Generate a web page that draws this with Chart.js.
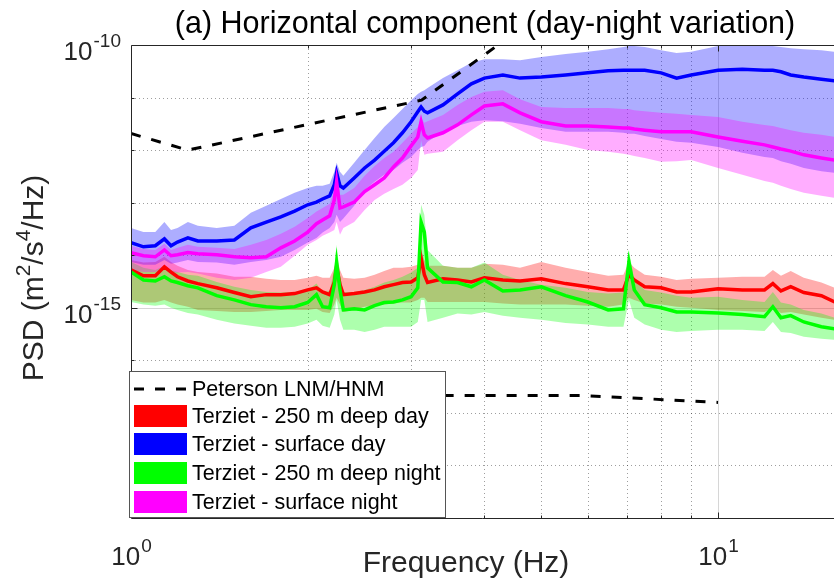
<!DOCTYPE html>
<html>
<head>
<meta charset="utf-8">
<script src="https://cdn.jsdelivr.net/npm/chart.js@4.4.0/dist/chart.umd.min.js"></script>
<style>
  html, body { margin: 0; padding: 0; background: #fff; }
</style>
</head>
<body>
<canvas id="psdChart" width="834" height="582"></canvas>
<script>
// frequency grid (Hz)
const freqs = [1.0, 1.05, 1.1, 1.14, 1.17, 1.2, 1.25, 1.3, 1.4, 1.5, 1.6, 1.7, 1.8, 1.9, 2.0, 2.07, 2.12, 2.18, 2.22, 2.24, 2.27, 2.3, 2.4, 2.5, 2.6, 2.7, 2.8, 2.9, 3.0, 3.08, 3.12, 3.16, 3.2, 3.4, 3.6, 3.8, 4.0, 4.3, 4.6, 5.0, 5.5, 6.0, 6.5, 6.9, 7.05, 7.2, 7.5, 8.0, 8.5, 9.0, 10, 11, 12, 12.4, 12.8, 13.3, 14, 15, 15.8];

// PSD values in dB (rel. 1 m^2/s^4/Hz)
const redMeanDb = [-142.8, -143.9, -143.9, -142.2, -143.2, -144.1, -144.9, -145.4, -146.2, -147.1, -147.9, -147.5, -147.5, -147.3, -146.6, -146.2, -147.0, -147.5, -145.1, -142.2, -145.6, -147.5, -147.3, -147.0, -146.6, -146.0, -145.6, -145.2, -145.1, -144.3, -140.5, -143.7, -145.2, -144.5, -144.7, -145.1, -144.3, -144.7, -144.9, -144.5, -145.4, -146.0, -146.6, -146.6, -143.7, -144.7, -146.0, -146.2, -147.0, -147.0, -146.4, -146.6, -146.6, -145.4, -146.8, -146.0, -147.1, -147.7, -148.9];
const redUpperDb = [-140.9, -141.4, -141.3, -140.3, -141.3, -142.0, -142.8, -143.2, -143.5, -144.1, -144.1, -144.5, -144.7, -144.7, -144.3, -143.9, -144.3, -144.3, -142.4, -140.3, -142.8, -144.3, -144.5, -144.3, -143.7, -143.0, -142.4, -142.4, -142.2, -141.8, -139.0, -140.9, -142.0, -142.0, -142.4, -142.4, -141.6, -141.8, -142.4, -141.3, -142.4, -143.2, -143.9, -143.7, -141.3, -142.4, -143.7, -144.1, -144.7, -144.5, -144.3, -144.1, -144.1, -142.8, -143.9, -143.0, -144.3, -145.2, -146.2];
const redLowerDb = [-148.5, -149.0, -149.0, -148.5, -149.0, -149.4, -149.8, -150.4, -150.6, -150.8, -150.8, -150.6, -150.4, -150.4, -150.4, -150.2, -150.8, -151.0, -149.4, -148.1, -149.4, -150.8, -150.4, -149.8, -149.6, -149.4, -149.2, -149.0, -149.0, -148.5, -148.1, -148.1, -148.9, -148.9, -148.9, -148.9, -148.9, -149.2, -149.4, -149.4, -149.4, -149.6, -149.8, -149.4, -148.1, -148.5, -149.2, -149.4, -149.8, -150.0, -150.4, -150.6, -150.8, -150.0, -151.0, -150.8, -151.3, -151.9, -152.3];

const blueMeanDb = [-137.6, -138.4, -138.2, -136.9, -138.2, -137.5, -136.7, -137.3, -137.3, -137.1, -134.8, -133.7, -132.7, -131.6, -130.4, -129.9, -129.3, -128.7, -126.6, -124.3, -126.8, -127.2, -125.3, -123.4, -121.9, -120.2, -118.6, -116.7, -114.6, -112.7, -111.8, -112.6, -112.9, -111.4, -109.3, -107.4, -106.3, -105.7, -106.3, -106.1, -105.7, -105.3, -104.9, -104.8, -104.8, -104.8, -104.8, -105.3, -106.3, -105.7, -104.8, -104.6, -104.8, -104.8, -105.1, -105.7, -106.1, -106.5, -106.8];
const blueUpperDb = [-134.8, -135.6, -135.6, -133.7, -135.2, -134.8, -133.7, -134.4, -134.8, -134.4, -131.9, -130.6, -129.3, -128.1, -127.2, -126.8, -126.8, -126.4, -124.1, -122.4, -124.1, -124.9, -122.4, -120.0, -117.7, -115.6, -113.9, -112.2, -110.5, -109.3, -108.9, -108.6, -108.2, -106.3, -104.8, -103.4, -102.7, -102.7, -102.9, -102.3, -101.7, -101.3, -100.8, -100.4, -100.2, -100.2, -100.4, -101.0, -101.5, -101.3, -100.2, -100.0, -100.2, -100.2, -100.4, -100.6, -100.8, -101.0, -101.3];
const blueLowerDb = [-141.3, -141.8, -141.8, -140.9, -141.6, -141.4, -140.9, -141.3, -141.4, -141.8, -141.3, -140.9, -140.3, -139.0, -137.6, -136.7, -135.7, -134.8, -133.7, -132.3, -133.7, -133.0, -130.6, -127.6, -126.0, -124.7, -123.8, -122.4, -121.3, -120.0, -119.4, -119.2, -118.4, -116.5, -115.4, -114.6, -114.3, -114.5, -115.0, -115.8, -116.5, -116.5, -116.5, -116.7, -116.9, -116.9, -117.3, -117.9, -118.4, -118.6, -119.4, -120.5, -121.3, -121.5, -122.1, -122.6, -123.4, -124.0, -124.3];

const greenMeanDb = [-143.2, -144.7, -144.9, -144.1, -144.9, -145.2, -145.8, -146.2, -147.7, -148.5, -149.4, -149.8, -150.0, -149.8, -149.0, -147.5, -149.8, -150.0, -145.6, -141.4, -146.6, -150.4, -150.2, -150.4, -149.6, -149.0, -148.9, -148.5, -147.9, -146.2, -133.7, -135.6, -142.4, -145.1, -145.2, -146.0, -144.7, -146.8, -146.6, -146.0, -147.7, -148.9, -150.4, -150.2, -141.3, -146.6, -149.4, -150.0, -150.8, -150.8, -151.0, -151.3, -151.7, -149.8, -151.9, -151.5, -152.7, -153.6, -154.0];
const greenUpperDb = [-141.3, -142.4, -142.8, -142.0, -142.8, -143.2, -143.7, -143.9, -145.1, -146.0, -146.6, -147.0, -147.1, -147.0, -146.6, -145.4, -147.0, -146.8, -142.4, -138.0, -143.7, -147.0, -147.0, -146.6, -146.0, -145.2, -144.7, -144.1, -143.3, -142.4, -130.4, -132.3, -139.0, -142.0, -142.4, -142.4, -141.4, -143.7, -144.7, -145.6, -146.2, -147.0, -147.3, -147.1, -139.0, -144.7, -146.6, -147.1, -147.7, -148.1, -147.9, -148.5, -148.9, -147.0, -149.0, -149.4, -150.4, -151.1, -151.9];
const greenLowerDb = [-148.9, -149.4, -149.6, -149.4, -150.0, -150.4, -151.0, -151.3, -152.3, -153.0, -153.4, -153.8, -153.8, -153.6, -153.0, -152.3, -153.4, -153.8, -151.3, -148.5, -152.3, -154.2, -154.2, -154.6, -154.2, -153.6, -153.6, -153.6, -153.6, -152.7, -148.5, -148.5, -152.7, -151.9, -151.1, -151.3, -150.8, -151.5, -151.9, -152.3, -152.9, -153.2, -153.6, -153.6, -148.5, -151.9, -153.2, -154.2, -154.6, -154.4, -154.2, -154.2, -154.4, -152.7, -154.6, -154.8, -155.5, -155.9, -156.1];

const magentaMeanDb = [-139.5, -140.1, -140.3, -139.0, -140.1, -139.9, -139.5, -139.7, -139.9, -140.3, -140.5, -140.3, -138.6, -137.3, -135.6, -134.0, -133.3, -132.5, -129.5, -126.0, -131.0, -130.8, -129.9, -127.9, -126.6, -125.3, -123.2, -121.5, -119.2, -117.5, -114.6, -117.1, -117.7, -116.7, -115.2, -113.3, -111.6, -111.2, -112.9, -114.6, -115.4, -115.4, -115.6, -115.8, -115.8, -116.0, -116.2, -116.5, -116.5, -116.5, -117.5, -118.3, -119.0, -119.4, -119.8, -120.2, -120.9, -121.5, -121.9];
const magentaUpperDb = [-138.2, -138.8, -139.0, -137.8, -139.0, -138.6, -138.0, -138.4, -138.6, -138.8, -138.0, -137.1, -135.9, -134.6, -132.9, -131.7, -131.0, -130.2, -127.6, -124.1, -128.5, -128.5, -127.2, -124.9, -123.0, -121.5, -120.3, -118.6, -116.9, -115.6, -113.9, -114.8, -114.5, -113.3, -111.4, -109.9, -108.9, -108.6, -110.3, -111.8, -112.0, -112.0, -112.0, -112.2, -112.2, -112.4, -112.6, -112.9, -113.1, -113.3, -113.7, -114.6, -115.2, -115.4, -115.8, -116.2, -116.7, -117.1, -117.5];
const magentaLowerDb = [-142.8, -143.2, -143.2, -142.4, -143.3, -143.3, -143.2, -143.5, -144.3, -144.7, -144.3, -143.2, -142.2, -140.1, -138.0, -137.1, -136.3, -135.7, -135.2, -133.7, -136.1, -134.8, -133.7, -131.4, -129.5, -128.3, -127.4, -126.6, -125.3, -123.8, -118.1, -120.9, -120.7, -120.3, -118.1, -116.2, -114.6, -114.6, -116.2, -118.1, -119.0, -120.0, -120.3, -120.7, -120.9, -121.1, -121.5, -122.2, -122.1, -121.9, -123.4, -124.7, -125.9, -126.2, -126.8, -127.4, -128.1, -128.7, -129.1];

// Peterson new high / low noise models (dB)
const hnmFreqs = [1, 1.25, 3.125, 4.545];
const hnmDb = [-116.85, -120.0, -110.5, -97.4];
const lnmFreqs = [1, 1.25, 2.5, 5.88, 10];
const lnmDb = [-166.4, -169.2, -166.7, -166.7, -168.0];

const xTicks = [1, 10];
const yTicks = [1e-15, 1e-10];
const legendLabels = ['Peterson LNM/HNM', 'Terziet - 250 m deep day', 'Terziet - surface day', 'Terziet - 250 m deep night', 'Terziet - surface night'];
const legendColors = ['#000000', '#ff0000', '#0000ff', '#00ff00', '#ff00ff'];

const FONT = '"Liberation Sans", Arial, Helvetica, sans-serif';

function toPoints(fs, db) {
    return fs.map((f, i) => ({ x: f, y: Math.pow(10, db[i] / 10) }));
}

function bandPair(upper, lower, color, order) {
    return [
        { data: toPoints(freqs, upper), borderWidth: 0, pointRadius: 0, backgroundColor: color, fill: '+1', order: order },
        { data: toPoints(freqs, lower), borderWidth: 0, pointRadius: 0, fill: false, order: order }
    ];
}

function meanLine(db, color, order) {
    return { data: toPoints(freqs, db), borderColor: color, borderWidth: 3.5, pointRadius: 0, fill: false, order: order };
}

const datasets = [
    ...bandPair(redUpperDb, redLowerDb, 'rgba(255,0,0,0.32)', 40),
    ...bandPair(blueUpperDb, blueLowerDb, 'rgba(0,0,255,0.32)', 30),
    ...bandPair(greenUpperDb, greenLowerDb, 'rgba(0,255,0,0.32)', 20),
    ...bandPair(magentaUpperDb, magentaLowerDb, 'rgba(255,0,255,0.32)', 10),
    meanLine(redMeanDb, '#ff0000', 5),
    meanLine(blueMeanDb, '#0000ff', 4),
    meanLine(greenMeanDb, '#00ff00', 3),
    meanLine(magentaMeanDb, '#ff00ff', 2),
    { data: toPoints(hnmFreqs, hnmDb), borderColor: '#000', borderWidth: 3, borderDash: [10, 11], pointRadius: 0, fill: false, order: 0 },
    { data: toPoints(lnmFreqs, lnmDb), borderColor: '#000', borderWidth: 3, borderDash: [10, 11], pointRadius: 0, fill: false, order: 0 }
];

// "10" with a raised exponent
function drawPower(ctx, exp, x, y, align) {
    ctx.font = '26px ' + FONT;
    const wb = ctx.measureText('10').width;
    ctx.font = '19px ' + FONT;
    const ws = ctx.measureText(exp).width;
    let left = x;
    if (align === 'right') left = x - wb - ws - 1;
    if (align === 'center') left = x - (wb + ws) / 2;
    ctx.textAlign = 'left';
    ctx.textBaseline = 'alphabetic';
    ctx.font = '26px ' + FONT;
    ctx.fillText('10', left, y);
    ctx.font = '19px ' + FONT;
    ctx.fillText(exp, left + wb + 1, y - 13);
}

function drawRich(ctx, parts, size) {
    let w = 0;
    parts.forEach(p => {
        ctx.font = (p.sup ? size * 0.7 : size) + 'px ' + FONT;
        p.w = ctx.measureText(p.t).width;
        w += p.w;
    });
    let cx = -w / 2;
    parts.forEach(p => {
        ctx.font = (p.sup ? size * 0.7 : size) + 'px ' + FONT;
        ctx.fillText(p.t, cx, p.sup ? -size * 0.42 : 0);
        cx += p.w;
    });
}

const axesPlugin = {
    id: 'matlabAxes',
    beforeDatasetsDraw(chart) {
        const { ctx, chartArea: a, scales: { x, y } } = chart;
        ctx.save();
        ctx.beginPath();
        ctx.rect(a.left, a.top, a.right - a.left, a.bottom - a.top);
        ctx.clip();
        ctx.lineWidth = 1;
        // dotted minor grid
        ctx.strokeStyle = 'rgba(0,0,0,0.38)';
        ctx.setLineDash([1, 3]);
        for (let m = 2; m <= 9; m++) {
            const px = Math.round(x.getPixelForValue(m)) + 0.5;
            ctx.beginPath(); ctx.moveTo(px, a.top); ctx.lineTo(px, a.bottom); ctx.stroke();
        }
        for (let e = -19; e <= -11; e++) {
            if (e === -15) continue;
            const py = Math.round(y.getPixelForValue(Math.pow(10, e))) + 0.5;
            ctx.beginPath(); ctx.moveTo(a.left, py); ctx.lineTo(a.right, py); ctx.stroke();
        }
        // solid major grid
        ctx.setLineDash([]);
        ctx.strokeStyle = 'rgba(0,0,0,0.16)';
        xTicks.forEach(v => {
            const px = Math.round(x.getPixelForValue(v)) + 0.5;
            ctx.beginPath(); ctx.moveTo(px, a.top); ctx.lineTo(px, a.bottom); ctx.stroke();
        });
        yTicks.forEach(v => {
            const py = Math.round(y.getPixelForValue(v)) + 0.5;
            ctx.beginPath(); ctx.moveTo(a.left, py); ctx.lineTo(a.right, py); ctx.stroke();
        });
        ctx.restore();
    },
    afterDraw(chart) {
        const { ctx, chartArea: a, scales: { x, y } } = chart;
        ctx.save();
        const L = a.left + 0.5, T = a.top + 0.5, B = a.bottom + 0.5;

        // box and tick marks
        ctx.strokeStyle = '#262626';
        ctx.lineWidth = 1;
        ctx.beginPath();
        ctx.moveTo(a.right, T); ctx.lineTo(L, T); ctx.lineTo(L, B); ctx.lineTo(a.right, B);
        ctx.stroke();
        ctx.beginPath();
        for (let m = 2; m <= 10; m++) {
            const px = Math.round(x.getPixelForValue(m)) + 0.5;
            const len = m === 10 ? 6 : 3;
            ctx.moveTo(px, B); ctx.lineTo(px, B - len);
            ctx.moveTo(px, T); ctx.lineTo(px, T + len);
        }
        for (let e = -18; e <= -11; e++) {
            const py = Math.round(y.getPixelForValue(Math.pow(10, e))) + 0.5;
            const len = e === -15 ? 6 : 3;
            ctx.moveTo(L, py); ctx.lineTo(L + len, py);
        }
        ctx.stroke();

        // tick labels
        ctx.fillStyle = '#262626';
        xTicks.forEach(v => {
            drawPower(ctx, String(Math.round(Math.log10(v))), x.getPixelForValue(v), 565, 'center');
        });
        yTicks.forEach(v => {
            drawPower(ctx, String(Math.round(Math.log10(v))), a.left - 10, y.getPixelForValue(v) + 15, 'right');
        });

        // title and axis labels
        ctx.fillStyle = '#000';
        ctx.textAlign = 'center';
        ctx.textBaseline = 'alphabetic';
        ctx.font = '30.5px ' + FONT;
        ctx.fillText('(a) Horizontal component (day-night variation)', 485, 33);
        ctx.fillStyle = '#262626';
        ctx.font = '30px ' + FONT;
        ctx.fillText('Frequency (Hz)', 466, 572);

        ctx.save();
        ctx.translate(43, 278);
        ctx.rotate(-Math.PI / 2);
        ctx.textAlign = 'left';
        drawRich(ctx, [{ t: 'PSD (m' }, { t: '2', sup: true }, { t: '/s' }, { t: '4', sup: true }, { t: '/Hz)' }], 30);
        ctx.restore();

        // legend box in the lower-left corner of the axes
        const lx = 129.5, ly = 371.5, lw = 316, lh = 146;
        ctx.fillStyle = '#fff';
        ctx.fillRect(lx, ly, lw, lh);
        ctx.strokeStyle = '#555';
        ctx.lineWidth = 1;
        ctx.strokeRect(lx, ly, lw, lh);
        const rowY = [389, 416, 444, 473, 502];
        ctx.font = '21.5px ' + FONT;
        ctx.textAlign = 'left';
        ctx.textBaseline = 'middle';
        legendLabels.forEach((label, i) => {
            if (i === 0) {
                ctx.strokeStyle = legendColors[i];
                ctx.lineWidth = 3;
                ctx.setLineDash([10, 11]);
                ctx.beginPath(); ctx.moveTo(134, rowY[i]); ctx.lineTo(188, rowY[i]); ctx.stroke();
                ctx.setLineDash([]);
            } else {
                ctx.fillStyle = legendColors[i];
                ctx.fillRect(134, rowY[i] - 11, 53, 22);
            }
            ctx.fillStyle = '#000';
            ctx.fillText(label, 192, rowY[i] + 1);
        });
        ctx.restore();
    }
};

new Chart(document.getElementById('psdChart'), {
    type: 'line',
    data: { datasets: datasets },
    options: {
        responsive: false,
        animation: false,
        devicePixelRatio: 1,
        layout: { padding: { left: 131, top: 45, right: 0, bottom: 64 } },
        plugins: { legend: { display: false }, tooltip: { enabled: false }, title: { display: false } },
        elements: { line: { tension: 0 } },
        scales: {
            x: { type: 'logarithmic', min: 1, max: 15.76, display: false },
            y: { type: 'logarithmic', min: 1e-19, max: 1e-10, display: false }
        }
    },
    plugins: [axesPlugin]
});
</script>
</body>
</html>
